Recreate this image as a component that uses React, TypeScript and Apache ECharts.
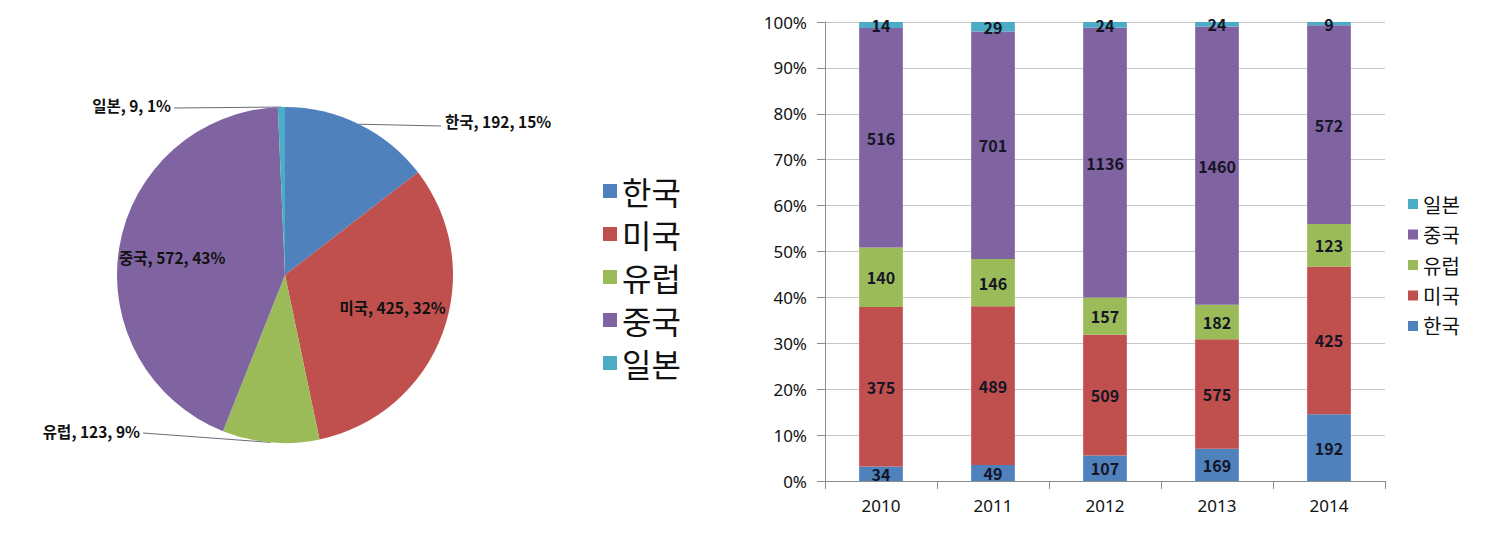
import React, { useEffect, useRef } from 'react';
import * as echarts from 'echarts';

const countries = ['한국', '미국', '유럽', '중국', '일본'];
const colors = ['#4F81BD', '#C0504D', '#9BBB59', '#8064A2', '#4BACC6'];
const pieValues = [192, 425, 123, 572, 9];

const years = ['2010', '2011', '2012', '2013', '2014'];
const korea = [34, 49, 107, 169, 192];
const usa = [375, 489, 509, 575, 425];
const europe = [140, 146, 157, 182, 123];
const china = [516, 701, 1136, 1460, 572];
const japan = [14, 29, 24, 24, 9];

const barSets = [korea, usa, europe, china, japan];
const KFONT = '"Noto Sans CJK KR", "Noto Sans", sans-serif';

export default function App() {
  const ref = useRef<HTMLDivElement>(null);
  useEffect(() => {
    if (!ref.current) return;
    const chart = echarts.init(ref.current, undefined, { renderer: 'svg' });
    const totals = years.map((_, i) => barSets.reduce((s, arr) => s + arr[i], 0));

    const pieData = countries.map((name, i) => {
      const inside = name === '미국' || name === '중국';
      return {
        name,
        value: pieValues[i],
        itemStyle: { color: colors[i] },
        label: { position: inside ? 'inside' : 'outside' },
        labelLine: { show: !inside },
      };
    });

    const barSeries = countries.map((name, si) => ({
      name,
      type: 'bar',
      stack: 'total',
      barWidth: '39%',
      xAxisIndex: 0,
      yAxisIndex: 0,
      itemStyle: { color: colors[si] },
      label: {
        show: true,
        position: 'inside',
        color: '#151525',
        fontWeight: 'bold',
        fontSize: 16,
        fontFamily: KFONT,
        formatter: (p: any) => String(barSets[si][p.dataIndex]),
      },
      data: barSets[si].map((v, i) => (v / totals[i]) * 100),
    }));

    chart.setOption({
      animation: false,
      backgroundColor: '#ffffff',
      legend: [
        {
          data: countries,
          orient: 'vertical',
          left: 598,
          top: 170,
          icon: 'rect',
          itemWidth: 14,
          itemHeight: 14,
          itemGap: 11,
          textStyle: { fontSize: 32, color: '#111', fontFamily: KFONT },
          selectedMode: false,
        },
        {
          data: countries.slice().reverse(),
          orient: 'vertical',
          left: 1403,
          top: 189,
          icon: 'rect',
          itemWidth: 10,
          itemHeight: 10,
          itemGap: 10.5,
          textStyle: { fontSize: 20, color: '#111', fontFamily: KFONT },
          selectedMode: false,
        },
      ],
      grid: { left: 825, right: 117, top: 22, bottom: 66 },
      xAxis: {
        type: 'category',
        data: years,
        axisLine: { lineStyle: { color: '#8c8c8c' } },
        axisTick: { show: true, length: 8, lineStyle: { color: '#8c8c8c' } },
        axisLabel: { fontSize: 17, color: '#111', margin: 16, fontFamily: '"Noto Sans", sans-serif' },
      },
      yAxis: {
        type: 'value',
        min: 0,
        max: 100,
        interval: 10,
        axisLine: { show: true, lineStyle: { color: '#8c8c8c' } },
        axisTick: { show: true, length: 8, lineStyle: { color: '#8c8c8c' } },
        splitLine: { lineStyle: { color: '#c8c8c8' } },
        axisLabel: { formatter: '{value}%', fontSize: 17, color: '#111', margin: 18, fontFamily: '"Noto Sans", sans-serif' },
      },
      series: [
        {
          type: 'pie',
          center: [285, 275],
          radius: 168,
          startAngle: 90,
          clockwise: true,
          percentPrecision: 0,
          itemStyle: { borderWidth: 0 },
          label: {
            formatter: '{b}, {c}, {d}%',
            fontSize: 15.5,
            fontWeight: 'bold',
            color: '#111',
            fontFamily: KFONT,
          },
          labelLine: { show: true, lineStyle: { color: '#6b6b7b', width: 1 } },
          labelLayout: (p: any) => {
            const i = p.dataIndex;
            const pts = p.labelLinePoints;
            const p0 = pts && pts[0] ? pts[0] : null;
            if (i === 0) {
              return { x: 445, y: 121, align: 'left', verticalAlign: 'middle', labelLinePoints: p0 ? [p0, [441, 126], [441, 126]] : undefined };
            }
            if (i === 4) {
              return { x: 171, y: 105, align: 'right', verticalAlign: 'middle', labelLinePoints: p0 ? [p0, [174, 108], [174, 108]] : undefined };
            }
            if (i === 2) {
              return { x: 140, y: 431, align: 'right', verticalAlign: 'middle', labelLinePoints: p0 ? [p0, [143, 433], [143, 433]] : undefined };
            }
            if (i === 1) return { dx: 26, dy: 2 };
            if (i === 3) return { dx: -27, dy: -3 };
            return {};
          },
          data: pieData,
        },
        ...barSeries,
      ],
    } as any);
    return () => chart.dispose();
  }, []);
  return <div ref={ref} style={{ position: 'absolute', left: 0, top: 0, width: 1502, height: 547 }} />;
}
